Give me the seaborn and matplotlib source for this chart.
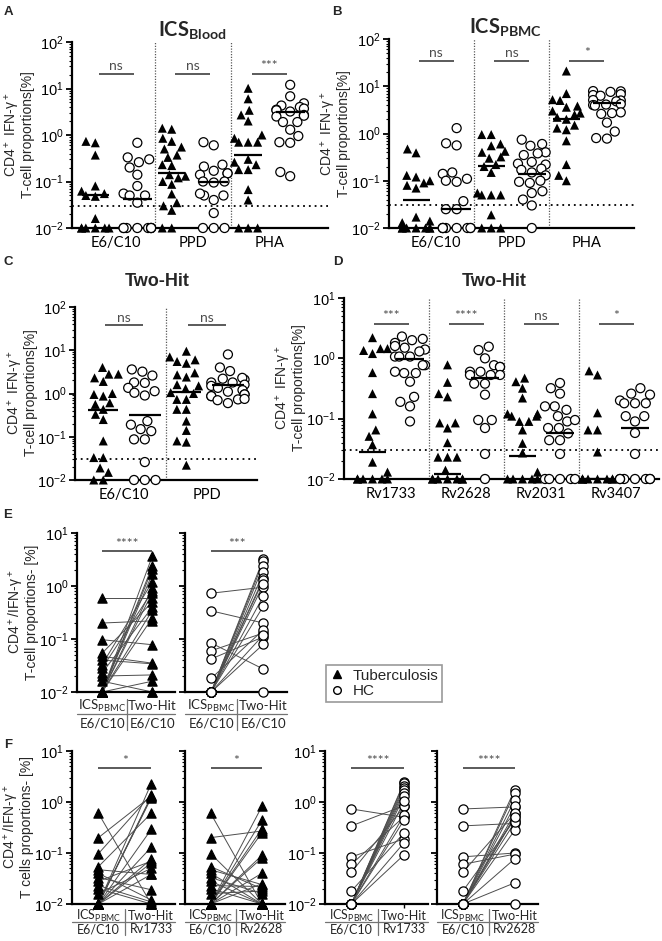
import warnings

import numpy as np
import pandas as pd
import matplotlib
matplotlib.use("Agg")
import matplotlib.pyplot as plt
from matplotlib.lines import Line2D
from matplotlib.markers import MarkerStyle
from matplotlib.ticker import LogLocator, NullFormatter
import seaborn as sns

warnings.filterwarnings("ignore")

FIG_W, FIG_H = 662, 941
GROUPS = ["Tuberculosis", "HC"]

# ---------------- A: ICS blood ----------------
a_stims = ["E6/C10", "PPD", "PHA"]
a_tb_e6 = [0.73, 0.68, 0.37, 0.08, 0.05, 0.048, 0.055, 0.062, 0.016] + [0.01] * 6
a_hc_e6 = [0.68, 0.33, 0.3, 0.26, 0.2, 0.14, 0.08, 0.055, 0.05, 0.05, 0.035] + [0.01] * 8
a_tb_ppd = [1.33, 1.4, 0.73, 0.85, 0.5, 0.55, 0.37, 0.33, 0.23, 0.22, 0.14, 0.13, 0.12,
            0.1, 0.087, 0.054, 0.03, 0.035, 0.024, 0.01, 0.01]
a_hc_ppd = [0.7, 0.6, 0.21, 0.17, 0.23, 0.15, 0.14, 0.15, 0.1, 0.095, 0.1, 0.05, 0.05,
            0.055, 0.04, 0.021, 0.01, 0.01, 0.01]
a_tb_pha = [10.1, 6.0, 2.7, 3.4, 2.0, 1.0, 0.7, 0.7, 0.85, 0.7, 0.26, 0.3, 0.23, 0.18,
            0.18, 0.067, 0.04, 0.01, 0.01, 0.01]
a_hc_pha = [12.0, 6.8, 4.3, 4.8, 4.0, 3.5, 3.4, 3.7, 3.2, 2.5, 2.7, 2.6, 1.9, 1.9, 1.3,
            0.95, 0.7, 0.68, 0.13, 0.16]
a_tb_median = [0.05, 0.15, 0.37]
a_hc_median = [0.042, 0.10, 3.2]
a_sig = ["ns", "ns", "***"]

# ---------------- B: ICS PBMC ----------------
b_stims = ["E6/C10", "PPD", "PHA"]
b_tb_e6 = [0.47, 0.39, 0.13, 0.12, 0.1, 0.09, 0.08, 0.07, 0.017, 0.013, 0.014] + [0.01] * 7
b_hc_e6 = [1.3, 0.62, 0.56, 0.15, 0.14, 0.11, 0.095, 0.1, 0.037, 0.025, 0.025] + [0.01] * 8
b_tb_ppd = [0.95, 0.95, 0.6, 0.55, 0.4, 0.42, 0.3, 0.32, 0.2, 0.22, 0.15, 0.05, 0.05,
            0.05, 0.055, 0.019, 0.01, 0.01, 0.01]
b_hc_ppd = [0.74, 0.6, 0.55, 0.4, 0.35, 0.38, 0.23, 0.25, 0.22, 0.15, 0.17, 0.18, 0.13,
            0.1, 0.09, 0.095, 0.055, 0.06, 0.04, 0.03, 0.01]
b_tb_pha = [21, 7, 5.2, 5.0, 3.8, 3.6, 3.0, 2.7, 2.5, 2.2, 2.0, 1.5, 1.3, 1.2, 0.7,
            0.22, 0.13, 0.1]
b_hc_pha = [7.8, 7.6, 7.9, 6.5, 6.8, 6.3, 5.0, 5.1, 4.8, 4.0, 4.2, 3.9, 4.1, 2.8, 2.6,
            2.7, 1.7, 1.1, 0.8, 0.78]
b_tb_median = [0.04, 0.21, 2.0]
b_hc_median = [0.025, 0.14, 4.5]
b_sig = ["ns", "ns", "*"]

# ---------------- C: Two-Hit ----------------
c_stims = ["E6/C10", "PPD"]
c_tb_e6 = [4.0, 2.8, 2.8, 1.9, 2.3, 1.0, 0.87, 0.95, 0.56, 0.61, 0.43, 0.25, 0.33,
           0.08, 0.033, 0.033, 0.015, 0.019, 0.01, 0.01]
c_hc_e6 = [3.6, 3.2, 2.6, 1.76, 1.8, 1.35, 1.13, 1.04, 0.9, 0.23, 0.19, 0.135, 0.15,
           0.087, 0.087, 0.026, 0.01, 0.01, 0.01]
c_tb_ppd = [9.5, 7.0, 6.0, 5.0, 5.5, 3.0, 2.7, 2.4, 1.6, 1.5, 1.3, 1.05, 1.0, 0.73,
            0.73, 0.43, 0.43, 0.23, 0.14, 0.08, 0.075, 0.022]
c_hc_ppd = [8.0, 4.0, 3.3, 2.2, 2.1, 2.3, 1.8, 1.6, 1.8, 1.5, 1.1, 1.2, 1.35, 0.95,
            0.87, 0.95, 0.87, 0.73, 0.7, 0.75, 0.6]
c_tb_median = [0.42, 1.1]
c_hc_median = [0.32, 1.55]
c_sig = ["ns", "ns"]

# ---------------- D: Two-Hit antigens ----------------
d_stims = ["Rv1733", "Rv2628", "Rv2031", "Rv3407"]
d_tb_1733 = [2.2, 1.45, 1.45, 1.35, 1.2, 0.58, 0.26, 0.12, 0.065, 0.051, 0.037, 0.019,
             0.013] + [0.01] * 6
d_hc_1733 = [2.1, 2.3, 2.0, 1.8, 1.5, 1.6, 1.4, 1.3, 1.07, 1.07, 1.07, 0.77, 0.77, 0.6,
             0.57, 0.57, 0.41, 0.23, 0.19, 0.16, 0.09]
d_tb_2628 = [0.78, 0.4, 0.26, 0.23, 0.085, 0.085, 0.07, 0.04, 0.023, 0.023, 0.023,
             0.014] + [0.01] * 7
d_hc_2628 = [1.37, 1.56, 1.0, 0.77, 0.72, 0.72, 0.6, 0.6, 0.53, 0.53, 0.53, 0.38, 0.38,
             0.25, 0.095, 0.095, 0.07, 0.026, 0.01]
d_tb_2031 = [0.41, 0.47, 0.32, 0.22, 0.12, 0.12, 0.11, 0.11, 0.09, 0.09, 0.065, 0.039,
             0.027, 0.013] + [0.01] * 5
d_hc_2031 = [0.32, 0.39, 0.26, 0.16, 0.16, 0.14, 0.11, 0.09, 0.095, 0.07, 0.07, 0.044,
             0.044, 0.057, 0.026] + [0.01] * 5
d_tb_3407 = [0.53, 0.62, 0.125, 0.065, 0.065, 0.028] + [0.01] * 8
d_hc_3407 = [0.32, 0.26, 0.25, 0.2, 0.18, 0.18, 0.18, 0.11, 0.11, 0.09, 0.058,
             0.026] + [0.01] * 7
d_tb_median = [0.028, 0.012, 0.024, 0.01]
d_hc_median = [0.96, 0.48, 0.057, 0.07]
d_sig = ["***", "****", "ns", "*"]

# ---------------- E / F: paired ICS_PBMC vs Two-Hit ----------------
pbmc_e6_tb = [0.6, 0.2, 0.097, 0.054, 0.047, 0.04, 0.033, 0.028, 0.023, 0.02, 0.016,
              0.01, 0.01, 0.01, 0.01, 0.01, 0.01, 0.01, 0.01, 0.01, 0.01]
pbmc_e6_hc = [0.73, 0.34, 0.084, 0.06, 0.042, 0.018] + [0.01] * 12
twohit_e6_tb = [0.6, 0.22, 0.078, 0.5, 0.035, 0.034, 1.2, 0.8, 0.4, 0.021, 0.01, 3.7,
                2.4, 2.1, 1.7, 0.93, 0.75, 0.35, 0.25, 0.016, 0.01]
twohit_e6_hc = [0.95, 0.2, 0.027, 0.13, 0.11, 0.15, 3.3, 2.9, 2.4, 1.8, 1.4, 1.3, 1.08,
                0.65, 0.42, 0.08, 0.12, 0.01]
twohit_1733_tb = [0.01, 1.3, 1.4, 0.6, 0.038, 0.012, 0.019, 0.069, 0.011, 0.01, 0.05,
                  2.3, 1.2, 1.3, 1.25, 0.29, 0.13, 0.076, 0.064, 0.038, 0.01]
twohit_2628_tb = [0.01, 0.27, 0.01, 0.02, 0.024, 0.01, 0.016, 0.01, 0.022, 0.01, 0.018,
                  0.82, 0.44, 0.25, 0.09, 0.08, 0.04, 0.3, 0.025, 0.01, 0.01]
twohit_1733_hc = [0.5, 0.85, 0.19, 0.52, 0.82, 0.25, 2.5, 2.35, 2.1, 1.9, 1.7, 1.5, 1.3,
                  1.03, 0.56, 0.45, 0.16, 0.093]
twohit_2628_hc = [0.8, 0.38, 0.1, 0.095, 0.6, 0.45, 1.75, 1.5, 1.1, 0.85, 0.52, 0.28,
                  0.077, 0.026, 0.01, 0.6, 0.4, 0.5]
e_sig = ["****", "***"]
f_sig = ["*", "*", "****", "****"]
pair_top = [r"ICS$\mathregular{_{PBMC}}$", "Two-Hit"]

sns.set_theme(style="ticks")
plt.rcParams["font.family"] = ["Liberation Sans", "DejaVu Sans"]
plt.rcParams["axes.edgecolor"] = "black"
plt.rcParams["xtick.color"] = "black"
plt.rcParams["ytick.color"] = "black"

TRI = MarkerStyle("^")
TRI_PATH = TRI.get_path().transformed(TRI.get_transform())

fig = plt.figure(figsize=(FIG_W / 100, FIG_H / 100), dpi=100)


def px_box(left, top, right, bottom):
    return [left / FIG_W, 1 - bottom / FIG_H, (right - left) / FIG_W, (bottom - top) / FIG_H]


def fig_text(x, y, s, **kw):
    fig.text(x / FIG_W, 1 - y / FIG_H, s, ha="center", va="center", **kw)


def style_log_axis(ax, labels=True):
    ax.set_yscale("log")
    ax.yaxis.set_major_locator(LogLocator(base=10, numticks=10))
    ax.yaxis.set_minor_locator(LogLocator(base=10, subs=np.arange(2, 10), numticks=10))
    ax.yaxis.set_minor_formatter(NullFormatter())
    for s in ["top", "right"]:
        ax.spines[s].set_visible(False)
    ax.spines["left"].set_linewidth(1.6)
    ax.spines["bottom"].set_linewidth(1.6)
    ax.tick_params(axis="y", which="major", length=4, width=1.3, labelsize=10.5, pad=2)
    ax.tick_params(axis="y", which="minor", length=2.5, width=0.8)
    if not labels:
        ax.tick_params(axis="y", which="both", labelleft=False)


def dot_panel(ax, stims, tb_sets, hc_sets, tb_med, hc_med, sig, top, bar_y, off, xlim):
    rows = []
    for i, (tb, hc) in enumerate(zip(tb_sets, hc_sets)):
        rows += [(i - off, "Tuberculosis", v) for v in tb]
        rows += [(i + off, "HC", v) for v in hc]
    df = pd.DataFrame(rows, columns=["xpos", "group", "value"])
    style_log_axis(ax)
    sns.swarmplot(data=df, x="xpos", y="value", hue="group", hue_order=GROUPS,
                  palette={"Tuberculosis": "black", "HC": "white"}, native_scale=True,
                  size=6.5, edgecolor="black", linewidth=0.9, legend=False, ax=ax,
                  clip_on=False, zorder=3)
    # swap the TB markers to filled triangles
    for coll in ax.collections:
        fc = coll.get_facecolor()
        if len(fc) and fc[0][0] < 0.5:
            coll.set_paths([TRI_PATH])
            coll.set_linewidth(0)
    for i in range(len(stims)):
        ax.hlines(tb_med[i], i - off - 0.18, i - off + 0.18, color="black", lw=1.6, zorder=4)
        ax.hlines(hc_med[i], i + off - 0.19, i + off + 0.19, color="black", lw=1.6, zorder=4)
        ax.hlines(bar_y, i - 0.23, i + 0.23, color="0.3", lw=1.3)
        ax.text(i, bar_y * 1.08, sig[i], ha="center", va="bottom", fontsize=10,
                family="Lato", color="0.3")
        if i:
            ax.axvline(i - 0.5, color="0.35", lw=0.9, ls=(0, (1, 1.2)))
    ax.axhline(0.03, color="black", lw=1.3, ls=(0, (1, 2.2)))
    ax.set_ylim(0.01, top)
    ax.set_xlim(*xlim)
    ax.set_xticks(range(len(stims)))
    ax.set_xticklabels(stims, fontsize=10.5, family="Lato")
    ax.tick_params(axis="x", length=0, pad=6)
    ax.set_xlabel("")
    ax.set_ylabel("")


def pair_panel(ax, left, right, marker, face, sig, labels, offsets, tsize, ticklabels=False):
    n = len(left)
    df = pd.DataFrame({"pair": list(range(n)) * 2,
                       "pos": [0] * n + [1] * n,
                       "value": list(left) + list(right)})
    style_log_axis(ax, labels=ticklabels)
    sns.lineplot(data=df, x="pos", y="value", units="pair", estimator=None,
                 color="0.3", lw=0.7, ax=ax, legend=False)
    sns.scatterplot(data=df, x="pos", y="value", marker=marker, color=face,
                    edgecolor="black", linewidth=0.9, s=44, ax=ax, legend=False,
                    clip_on=False, zorder=3)
    ax.set_ylim(0.01, 10)
    ax.set_xlim(-0.5, 1.45)
    ax.set_xticks([0, 1])
    ax.set_xticklabels(["", ""])
    ax.tick_params(axis="x", length=3, width=1.0)
    ax.set_xlabel("")
    ax.set_ylabel("")
    bar_y = 4.6
    ax.hlines(bar_y, 0, 1, color="0.3", lw=1.3)
    ax.text(0.5, bar_y * 1.05, sig, ha="center", va="bottom", fontsize=10,
            family="Lato", color="0.3")
    # two-row label table under the axis
    r1, ln, r2 = offsets
    h = ax.get_position().height * FIG_H
    trans = ax.get_xaxis_transform()
    for x, t1, t2 in zip([0, 1], pair_top, labels):
        ax.text(x, -r1 / h, t1, transform=trans, ha="center", va="center",
                fontsize=tsize, family="Lato")
        ax.text(x, -r2 / h, t2, transform=trans, ha="center", va="center",
                fontsize=tsize, family="Lato")
    ax.plot([0, 1], [-ln / h] * 2, transform=ax.transAxes, color="0.45", lw=0.9,
            clip_on=False)
    ax.plot([0.5, 0.5], [-(r1 - 7) / h, -(r2 + 6) / h], transform=trans,
            color="0.45", lw=0.9, clip_on=False)


ax_a = fig.add_axes(px_box(72, 42, 328, 228))
dot_panel(ax_a, a_stims, [a_tb_e6, a_tb_ppd, a_tb_pha], [a_hc_e6, a_hc_ppd, a_hc_pha],
          a_tb_median, a_hc_median, a_sig, 100, 21, 0.275, (-0.58, 2.77))

ax_b = fig.add_axes(px_box(389, 39, 634, 228))
dot_panel(ax_b, b_stims, [b_tb_e6, b_tb_ppd, b_tb_pha], [b_hc_e6, b_hc_ppd, b_hc_pha],
          b_tb_median, b_hc_median, b_sig, 100, 35, 0.27, (-0.63, 2.63))

ax_c = fig.add_axes(px_box(75, 307, 257, 480))
dot_panel(ax_c, c_stims, [c_tb_e6, c_tb_ppd], [c_hc_e6, c_hc_ppd],
          c_tb_median, c_hc_median, c_sig, 100, 38, 0.25, (-0.59, 1.6))

ax_d = fig.add_axes(px_box(344, 298, 659, 479))
dot_panel(ax_d, d_stims, [d_tb_1733, d_tb_2628, d_tb_2031, d_tb_3407],
          [d_hc_1733, d_hc_2628, d_hc_2031, d_hc_3407],
          d_tb_median, d_hc_median, d_sig, 10, 3.7, 0.25, (-0.63, 3.57))

E_OFF = (14, 22, 32)
F_OFF = (12, 18, 25)

ax_e1 = fig.add_axes(px_box(77, 533, 175, 692))
pair_panel(ax_e1, pbmc_e6_tb, twohit_e6_tb, "^", "black", e_sig[0], ["E6/C10", "E6/C10"],
           E_OFF, 9.5, ticklabels=True)
ax_e2 = fig.add_axes(px_box(185, 533, 287, 692))
pair_panel(ax_e2, pbmc_e6_hc, twohit_e6_hc, "o", "white", e_sig[1], ["E6/C10", "E6/C10"],
           E_OFF, 9.5)

ax_f1 = fig.add_axes(px_box(72, 751, 175, 904))
pair_panel(ax_f1, pbmc_e6_tb, twohit_1733_tb, "^", "black", f_sig[0], ["E6/C10", "Rv1733"],
           F_OFF, 9, ticklabels=True)
ax_f2 = fig.add_axes(px_box(185, 751, 285, 904))
pair_panel(ax_f2, pbmc_e6_tb, twohit_2628_tb, "^", "black", f_sig[1], ["E6/C10", "Rv2628"],
           F_OFF, 9)
ax_f3 = fig.add_axes(px_box(325, 751, 428, 904))
pair_panel(ax_f3, pbmc_e6_hc, twohit_1733_hc, "o", "white", f_sig[2], ["E6/C10", "Rv1733"],
           F_OFF, 9, ticklabels=True)
ax_f4 = fig.add_axes(px_box(437, 751, 538, 904))
pair_panel(ax_f4, pbmc_e6_hc, twohit_2628_hc, "o", "white", f_sig[3], ["E6/C10", "Rv2628"],
           F_OFF, 9)

# y-axis titles, placed by their centres
AD_YLAB = "CD4$\\mathregular{^+}$ IFN-γ$\\mathregular{^+}$\nT-cell proportions[%]"
E_YLAB = "CD4$\\mathregular{^+}$/IFN-γ$\\mathregular{^+}$\nT-cell proportions- [%]"
F_YLAB = "CD4$\\mathregular{^+}$/IFN-γ$\\mathregular{^+}$\nT cells proportions- [%]"
for lab, x, y in [(AD_YLAB, 19, 135), (AD_YLAB, 335, 134), (AD_YLAB, 22, 393),
                  (AD_YLAB, 290, 388), (E_YLAB, 23, 612), (F_YLAB, 18, 827)]:
    fig_text(x, y, lab, rotation=90, fontsize=10, linespacing=0.95)

# panel titles
fig_text(192, 31, r"$\mathregular{ICS_{Blood}}$", fontsize=14.5, weight="bold", family="Lato")
fig_text(506, 28, r"$\mathregular{ICS_{PBMC}}$", fontsize=14.5, weight="bold", family="Lato")
fig_text(157, 282, "Two-Hit", fontsize=13, weight="bold")
fig_text(494, 282, "Two-Hit", fontsize=13, weight="bold")

for letter, x, y in [("A", 8, 12), ("B", 337, 12), ("C", 8, 262), ("D", 338, 262),
                     ("E", 8, 515), ("F", 8, 745)]:
    fig_text(x, y, letter, fontsize=9.5, weight="bold")

handles = [Line2D([], [], marker="^", color="black", ls="", markersize=5.5),
           Line2D([], [], marker="o", markerfacecolor="white", markeredgecolor="black",
                  ls="", markersize=5.5)]
leg = fig.legend(handles, GROUPS, loc="upper left",
                 bbox_to_anchor=(326 / FIG_W, 1 - 665 / FIG_H), frameon=True,
                 fancybox=False, edgecolor="0.5", fontsize=11, handlelength=1.0,
                 handletextpad=0.5, borderpad=0.25, labelspacing=0.1, borderaxespad=0)
leg.get_frame().set_linewidth(1.2)

fig.savefig("out.png", dpi=100)
